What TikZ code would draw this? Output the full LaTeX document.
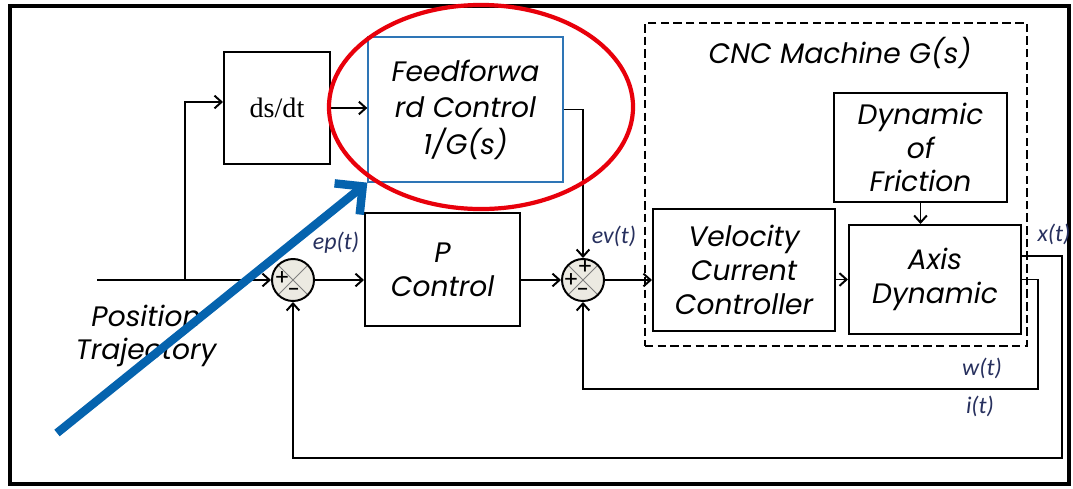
\documentclass[tikz,border=0pt]{standalone}
\usepackage{fontspec}
\setmainfont{Liberation Serif}
\setsansfont{Poppins}
\newfontfamily\lblfont{Carlito}
\usepackage{xcolor}
\usetikzlibrary{arrows.meta,positioning,calc}

\definecolor{sumfill}{HTML}{ECEAE2}
\definecolor{lblcol}{HTML}{27305E}
\definecolor{ffblue}{HTML}{2E75B6}
\definecolor{arrowblue}{HTML}{0563AE}
\definecolor{ringred}{HTML}{E8000B}

\begin{document}
\begin{tikzpicture}[x=0.025cm,y=-0.025cm,
        box/.style={draw,line width=1.4pt,align=center,inner sep=0pt,font=\sffamily\itshape\fontsize{20}{24}\selectfont},
        sumnode/.style={draw,circle,line width=1.4pt,fill=sumfill,minimum size=1.05cm,inner sep=0pt,
            path picture={\draw[gray,line width=0.6pt]
                (path picture bounding box.north west) -- (path picture bounding box.south east)
                (path picture bounding box.north east) -- (path picture bounding box.south west);}},
        arrow/.style={-{Straight Barb[length=5pt,width=9pt]},line width=1.4pt},
        sig/.style={text=lblcol,font=\lblfont\itshape\fontsize{17}{20}\selectfont},
        sgn/.style={inner sep=0pt,font=\sffamily\fontsize{16}{16}\selectfont}
    ]
        \useasboundingbox (0,0) rectangle (1073,488);
        \draw[line width=3pt] (10,6) rectangle (1069,484);

        % blocks
        \node[box,minimum width=2.65cm,minimum height=2.8cm,font=\rmfamily\fontsize{20}{24}\selectfont] (dsdt) at (277,108) {ds/dt};
        \node[box,draw=ffblue,line width=0.9pt,minimum width=4.875cm,minimum height=3.625cm,font=\sffamily\itshape\fontsize{20}{26}\selectfont] (ff) at (465.5,109.5) {Feedforwa\\rd Control\\1/G(s)};
        \node[box,minimum width=3.875cm,minimum height=2.825cm] (pctrl) at (442.5,269.5) {P\\Control};
        \node[sumnode] (sum1) at (293,280) {};
        \node[sumnode] (sum2) at (583,280) {};
        \node[box,minimum width=4.55cm,minimum height=3.05cm] (vcc) at (744,270) {Velocity\\Current\\Controller};
        \node[box,minimum width=4.325cm,minimum height=2.725cm] (fric) at (920.5,147.5) {Dynamic\\of\\Friction};
        \node[box,minimum width=4.3cm,minimum height=2.725cm] (axis) at (935,279.5) {Axis\\Dynamic};
        \node[draw,dash pattern=on 6pt off 3pt,line width=1.4pt,minimum width=9.55cm,minimum height=8.075cm] (cnc) at (836,184.5) {};
        \node[font=\sffamily\itshape\fontsize{20}{24}\selectfont] (cnctitle) at (840,53) {CNC Machine G(s)};
        \node[align=center,font=\sffamily\itshape\fontsize{20}{24}\selectfont] (postraj) at (146,336) {Position\\Trajectory};

        % signs
        \node[sgn] (s1p) at (282,279) {+};
        \node[sgn] (s1m) at (294,293) {-};
        \node[sgn] (s2t) at (585,268) {+};
        \node[sgn] (s2l) at (571,281) {+};
        \node[sgn] (s2m) at (583,293) {-};

        % signals
        \node[sig] (eplbl) at (336,243) {ep(t)};
        \node[sig] (evlbl) at (614,236) {ev(t)};
        \node[sig] (xlbl) at (1054,234) {x(t)};
        \node[sig] (wlbl) at (982,368) {w(t)};
        \node[sig] (ilbl) at (980,406) {i(t)};

        \coordinate (start) at (97,280);
        \coordinate (branch) at (185,280);
        \coordinate (xcorner) at (1062,458);
        \coordinate (wcorner) at (1038,389);

        \draw[line width=1.4pt] (start) -- (branch);
        \draw[arrow] (branch) -- (sum1.west);
        \draw[arrow] (branch) |- ([yshift=0.15cm]dsdt.west);
        \draw[arrow] (dsdt.east) -- (dsdt.east -| ff.west);
        \draw[arrow] (sum1.east) -- (sum1.east -| pctrl.west);
        \draw[arrow] (pctrl.east |- sum2.west) -- (sum2.west);
        \draw[arrow] (ff.east) -| (sum2.north);
        \draw[arrow] (sum2.east) -- (sum2.east -| vcc.west);
        \draw[arrow] (vcc.east |- axis.west) -- (axis.west);
        \draw[arrow] (fric.south) -- (fric.south |- axis.north);
        \draw[arrow] ([yshift=0.59cm]axis.east) -| (xcorner) -| (sum1.south);
        \draw[arrow] (axis.east) -| (wcorner) -| (sum2.south);

        % annotation
        \draw[ringred,line width=3pt] (481,107) ellipse [x radius=3.8cm,y radius=2.55cm];
        \coordinate (bluestart) at (57,433);
        \draw[arrowblue,line width=6pt,-{Straight Barb[length=5mm,width=10mm]}] (bluestart) -- (ff.south west);
    \end{tikzpicture}
\end{document}
